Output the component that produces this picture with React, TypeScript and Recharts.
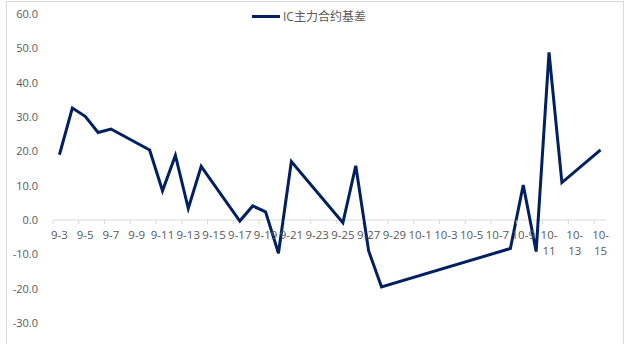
import { LineChart, Line, XAxis, YAxis, ReferenceLine, ReferenceDot } from 'recharts';

const tradeDates = [
  '9-3', '9-4', '9-5', '9-6', '9-7', '9-10', '9-11', '9-12', '9-13', '9-14',
  '9-17', '9-18', '9-19', '9-20', '9-21', '9-25', '9-26', '9-27', '9-28',
  '10-8', '10-9', '10-10', '10-11', '10-12', '10-15',
];
const basis = [
  19.0, 32.6, 30.2, 25.5, 26.5, 20.4, 8.5, 18.8, 3.4, 15.6,
  -0.3, 4.1, 2.4, -9.7, 17.0, -0.8, 15.8, -9.0, -19.5,
  -8.3, 10.2, -9.2, 48.8, 10.9, 20.4,
];
const tickLabels = [
  '9-3', '9-5', '9-7', '9-9', '9-11', '9-13', '9-15', '9-17', '9-19', '9-21', '9-23',
  '9-25', '9-27', '9-29', '10-1', '10-3', '10-5', '10-7', '10-9', '10-11', '10-13', '10-15',
];
const yTicks = [-30, -20, -10, 0, 10, 20, 30, 40, 50, 60];

const SERIES = 'IC主力合约基差';
const NAVY = '#002060';
const GREY = '#595959';
const FONT = "'Open Sans', 'Noto Sans CJK SC', sans-serif";

// days counted from 9-3 (date axis, one slot per calendar day)
const dayIndex = (s: string) => {
  const [m, d] = s.split('-').map(Number);
  return m === 9 ? d - 3 : 28 + d - 1;
};

const data = tradeDates.map((d, i) => ({ x: dayIndex(d) + 0.5, v: basis[i] }));

const TickMark = (props: any) => (
  <line x1={props.cx} y1={props.cy} x2={props.cx} y2={props.cy + 4} stroke="#d9d9d9" strokeWidth={1} />
);

const makeLabel = (label: string) => (props: any) => {
  const lines = label.length > 4 ? [label.slice(0, 3), label.slice(3)] : [label];
  return (
    <text x={props.cx} y={props.cy + 19} textAnchor="middle" fill={GREY} fontSize={11.5} fontFamily={FONT}>
      {lines.map((l, i) => (
        <tspan key={i} x={props.cx} dy={i === 0 ? 0 : 16}>
          {l}
        </tspan>
      ))}
    </text>
  );
};

export default function App() {
  return (
    <div style={{ position: 'absolute', left: 0, top: 0, width: 637, height: 344, overflow: 'hidden', background: '#fff' }}>
      <div style={{ position: 'absolute', left: 6, top: 1, width: 616, height: 400, border: '1px solid #d9d9d9' }} />
      <div
        style={{
          position: 'absolute', left: 252, top: 7, display: 'flex', alignItems: 'center',
          fontFamily: FONT, fontSize: 12, color: GREY,
        }}
      >
        <span style={{ display: 'inline-block', width: 28, height: 3, background: NAVY, marginRight: 3 }} />
        {SERIES}
      </div>
      <LineChart width={637} height={344} data={data} margin={{ top: 14, right: 30, bottom: 21, left: 0 }}>
        <XAxis dataKey="x" type="number" domain={[0, 43]} hide />
        <YAxis
          type="number"
          domain={[-30, 60]}
          ticks={yTicks}
          width={53}
          axisLine={false}
          tickLine={false}
          tickSize={0}
          tickMargin={15}
          tickFormatter={(v: number) => v.toFixed(1)}
          tick={{ fill: GREY, fontSize: 11, fontFamily: FONT }}
        />
        <ReferenceLine y={0} stroke="#d9d9d9" strokeWidth={1} />
        {tickLabels.map((t) => (
          <ReferenceDot key={'m' + t} x={dayIndex(t)} y={0} r={0} shape={TickMark} />
        ))}
        {tickLabels.map((t) => (
          <ReferenceDot key={'l' + t} x={dayIndex(t) + 0.5} y={0} r={0} shape={makeLabel(t)} />
        ))}
        <Line
          dataKey="v"
          name={SERIES}
          stroke={NAVY}
          strokeWidth={3}
          dot={false}
          isAnimationActive={false}
          strokeLinejoin="miter"
        />
      </LineChart>
    </div>
  );
}
